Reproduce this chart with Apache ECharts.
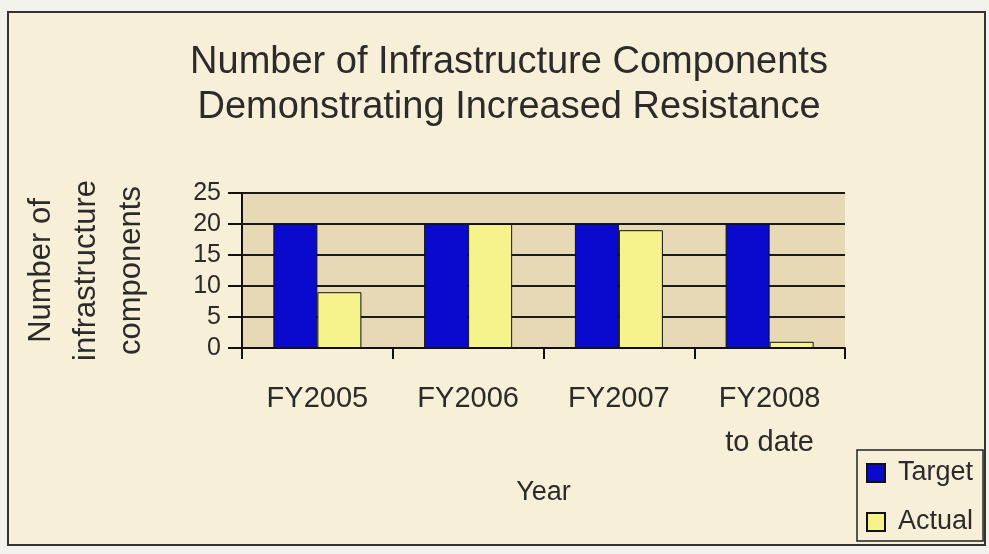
<!DOCTYPE html>
<html>
<head>
<meta charset="utf-8">
<script src="https://cdn.jsdelivr.net/npm/echarts@6/dist/echarts.min.js"></script>
<style>
  html, body { margin: 0; padding: 0; background: #f3f2ec; }
  #main { width: 989px; height: 554px; }
</style>
</head>
<body>
<div id="main"></div>
<script>
// chart data
var categories = ["FY2005", "FY2006", "FY2007", "FY2008\nto date"];
var targetValues = [20, 20, 20, 20];
var actualValues = [9, 20, 19, 1];
var yTicks = [0, 5, 10, 15, 20, 25];

var chartDom = document.getElementById("main");
var myChart = echarts.init(chartDom);
var font = "Liberation Sans, Arial, sans-serif";
var ink = "#2b2b2b";

var option = {
  animation: false,
  backgroundColor: "#f3f2ec",
  graphic: [
    {
      type: "rect",
      z: -10,
      shape: { x: 8, y: 12, width: 977, height: 533 },
      style: { fill: "#f7efd7", stroke: "#333", lineWidth: 2 },
    },
  ],
  title: {
    text: "Number of Infrastructure Components\nDemonstrating Increased Resistance",
    left: 504,
    top: 35,
    textAlign: "center",
    textStyle: {
      fontFamily: font,
      fontSize: 38,
      fontWeight: "normal",
      color: ink,
      lineHeight: 45,
    },
  },
  legend: {
    orient: "vertical",
    left: 857,
    top: 450,
    padding: [8, 10, 4, 9],
    itemWidth: 18,
    itemHeight: 18,
    itemGap: 19,
    icon: "rect",
    borderColor: "#222",
    borderWidth: 1.5,
    backgroundColor: "#f7efd7",
    textStyle: { fontFamily: font, fontSize: 27, color: ink, lineHeight: 30, padding: [0, 0, 0, 8] },
    data: ["Target", "Actual"],
  },
  grid: {
    left: 242,
    right: 144,
    top: 193,
    bottom: 206,
    show: true,
    backgroundColor: "#e8d9b6",
    borderWidth: 0,
  },
  xAxis: {
    type: "category",
    data: categories,
    name: "Year",
    nameLocation: "middle",
    nameGap: 131,
    nameTextStyle: { fontFamily: font, fontSize: 27, color: ink },
    axisLine: { lineStyle: { color: "#111", width: 2 } },
    axisTick: { show: true, length: 11, lineStyle: { color: "#111", width: 2 } },
    axisLabel: {
      fontFamily: font,
      fontSize: 29,
      color: ink,
      margin: 29,
      lineHeight: 44,
    },
  },
  yAxis: {
    type: "value",
    min: yTicks[0],
    max: yTicks[yTicks.length - 1],
    interval: yTicks[1] - yTicks[0],
    name: "Number of\ninfrastructure\ncomponents",
    nameLocation: "middle",
    nameGap: 88,
    nameTextStyle: { fontFamily: font, fontSize: 31, color: ink, lineHeight: 45 },
    axisLine: { show: true, lineStyle: { color: "#111", width: 2 } },
    axisTick: { show: true, length: 14, lineStyle: { color: "#111", width: 2 } },
    axisLabel: { fontFamily: font, fontSize: 25, color: ink, margin: 21 },
    splitLine: { lineStyle: { color: "#1a1a1a", width: 2 } },
  },
  series: [
    {
      name: "Target",
      type: "bar",
      data: targetValues,
      barWidth: 44,
      barGap: "0%",
      itemStyle: { color: "#0a0acf", borderColor: "#111", borderWidth: 1 },
    },
    {
      name: "Actual",
      type: "bar",
      data: actualValues,
      barWidth: 44,
      itemStyle: { color: "#f6f38c", borderColor: "#111", borderWidth: 1 },
    },
  ],
};

option && myChart.setOption(option);
</script>
</body>
</html>
